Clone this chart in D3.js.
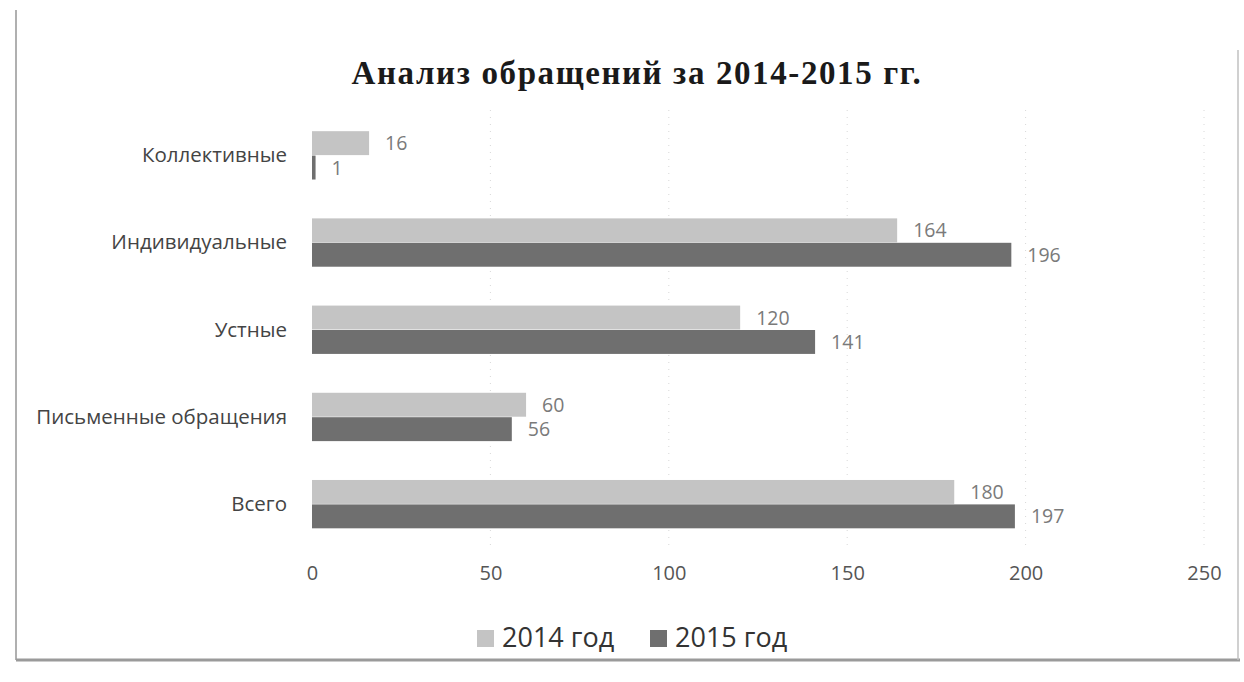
<!DOCTYPE html>
<html>
<head>
<meta charset="utf-8">
<script src="https://cdn.jsdelivr.net/npm/d3@7"></script>
<style>
  body { margin: 0; background: #fff; }
  svg { display: block; }
</style>
</head>
<body>
<svg id="chart"></svg>
<script>
// Data (top to bottom as in the picture)
const categories = ['Коллективные', 'Индивидуальные', 'Устные', 'Письменные обращения', 'Всего'];
const values2014 = [16, 164, 120, 60, 180];
const values2015 = [1, 196, 141, 56, 197];
const seriesNames = ['2014 год', '2015 год'];
const xTicks = [0, 50, 100, 150, 200, 250];

const width = 1244;
const height = 682;
const svg = d3.select('#chart').attr('width', width).attr('height', height);

// Edges of the scanned sheet (left, bottom, right; no top edge visible)
const frame = svg.append('g').attr('fill', 'none');
frame.append('line').attr('x1', 16).attr('y1', 10).attr('x2', 16).attr('y2', 660)
  .attr('stroke', '#b0b0b0').attr('stroke-width', 2);
frame.append('line').attr('x1', 16).attr('y1', 660).attr('x2', 1240).attr('y2', 660)
  .attr('stroke', '#9a9a9a').attr('stroke-width', 3);
frame.append('line').attr('x1', 1238).attr('y1', 50).attr('x2', 1238).attr('y2', 660)
  .attr('stroke', '#c0c0c0').attr('stroke-width', 1.5);

// Title
svg.append('text')
  .attr('x', 637).attr('y', 84)
  .attr('text-anchor', 'middle')
  .attr('font-family', '"Liberation Serif", serif')
  .attr('font-weight', 'bold')
  .attr('font-size', 33)
  .attr('letter-spacing', 1.6)
  .attr('fill', '#1a1a1a')
  .text('Анализ обращений за 2014-2015 гг.');

// Scales
const x = d3.scaleLinear().domain([0, 250]).range([312, 1204]);
const y = d3.scaleBand().domain(categories).range([112, 548]).paddingInner(0.44).paddingOuter(0.22);
const ySub = d3.scaleBand().domain(seriesNames).range([0, y.bandwidth()]);
const colors = d3.scaleOrdinal().domain(seriesNames).range(['#c4c4c4', '#6f6f6f']);

// Faint dotted gridlines
svg.append('g')
  .selectAll('line')
  .data(xTicks.slice(1))
  .join('line')
  .attr('x1', d => x(d)).attr('x2', d => x(d))
  .attr('y1', 110).attr('y2', 548)
  .attr('stroke', '#d8d8d8')
  .attr('stroke-dasharray', '1,6');

// Bars
const rows = categories.map((c, i) => ({ cat: c, vals: [values2014[i], values2015[i]] }));
const groups = svg.append('g')
  .selectAll('g')
  .data(rows)
  .join('g')
  .attr('transform', d => `translate(0,${y(d.cat)})`);

groups.selectAll('rect')
  .data(d => d.vals.map((v, j) => ({ s: seriesNames[j], v })))
  .join('rect')
  .attr('x', x(0))
  .attr('y', d => ySub(d.s))
  .attr('width', d => Math.max(x(d.v) - x(0), 2))
  .attr('height', ySub.bandwidth() - 0.5)
  .attr('fill', d => colors(d.s));

// Value labels
groups.selectAll('text')
  .data(d => d.vals.map((v, j) => ({ s: seriesNames[j], v })))
  .join('text')
  .attr('x', d => x(d.v) + 16)
  .attr('y', d => ySub(d.s) + ySub.bandwidth() / 2)
  .attr('dy', '0.35em')
  .attr('font-family', '"Open Sans", sans-serif')
  .attr('font-size', 19.5)
  .attr('fill', '#7a7a7a')
  .text(d => d.v);

// Category axis
const yAxis = svg.append('g')
  .attr('transform', `translate(${x(0)},0)`)
  .call(d3.axisLeft(y).tickSize(0).tickPadding(25));
yAxis.select('.domain').remove();
yAxis.selectAll('text')
  .attr('font-family', '"Open Sans", sans-serif')
  .attr('font-size', 20.5)
  .attr('fill', '#444');

// Value axis
const xAxis = svg.append('g')
  .attr('transform', 'translate(0,558)')
  .call(d3.axisBottom(x).tickValues(xTicks).tickSize(0).tickPadding(8));
xAxis.select('.domain').remove();
xAxis.selectAll('text')
  .attr('font-family', '"Open Sans", sans-serif')
  .attr('font-size', 20)
  .attr('fill', '#555');

// Legend
const legend = svg.append('g').attr('transform', 'translate(477,638)');
const legendX = [0, 173];
seriesNames.forEach((s, i) => {
  const g = legend.append('g').attr('transform', `translate(${legendX[i]},0)`);
  g.append('rect')
    .attr('x', 0).attr('y', -8)
    .attr('width', 17).attr('height', 17)
    .attr('fill', colors(s));
  g.append('text')
    .attr('x', 25).attr('y', 0)
    .attr('dy', '0.35em')
    .attr('font-family', '"Open Sans", sans-serif')
    .attr('font-size', 27)
    .attr('fill', '#333')
    .text(s);
});
</script>
</body>
</html>
